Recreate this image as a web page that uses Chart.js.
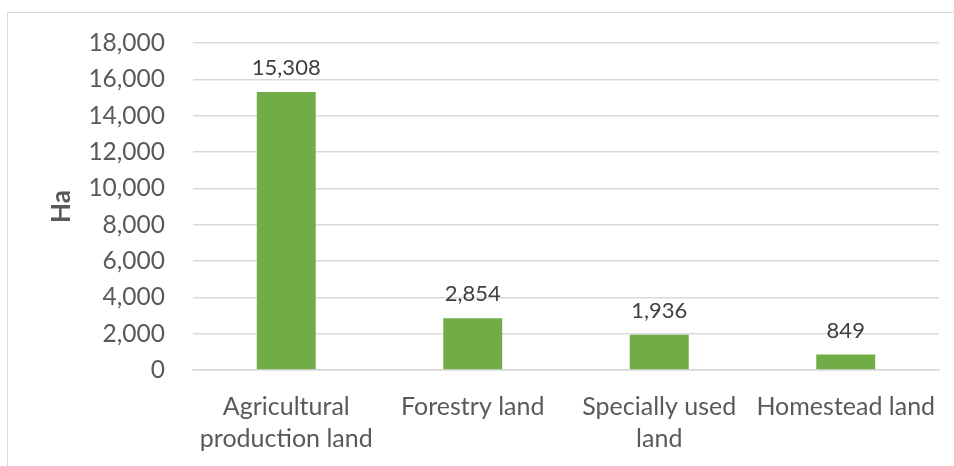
<!DOCTYPE html>
<html>
<head>
<meta charset="utf-8">
<script src="https://cdn.jsdelivr.net/npm/chart.js@4"></script>
<style>
  html, body { margin: 0; padding: 0; background: #fff; }
  #wrap { position: relative; width: 954px; height: 466px; overflow: hidden; }
  #frame { position: absolute; left: 7px; top: 12px; width: 1000px; height: 500px; border: 1px solid #d9d9d9; }
  #chart { position: absolute; left: 0; top: 0; }
</style>
</head>
<body>
<div id="wrap">
  <div id="frame"></div>
  <canvas id="chart" width="954" height="466"></canvas>
</div>
<script>
const categories = [
    ['Agricultural', 'production land'],
    ['Forestry land'],
    ['Specially used', 'land'],
    ['Homestead land']
];
const areaHa = [15308, 2854, 1936, 849];
const yTicks = [0, 2000, 4000, 6000, 8000, 10000, 12000, 14000, 16000, 18000];

const textColor = '#595959';
const fontFamily = 'Lato, "Open Sans", sans-serif';

// Подписи значений над столбцами
const valueLabels = {
    id: 'valueLabels',
    afterDatasetsDraw(chart) {
        const ctx = chart.ctx;
        const meta = chart.getDatasetMeta(0);
        ctx.save();
        ctx.fillStyle = '#404040';
        ctx.font = '22px ' + fontFamily;
        ctx.textAlign = 'center';
        ctx.textBaseline = 'middle';
        meta.data.forEach((bar, i) => {
            ctx.fillText(areaHa[i].toLocaleString('en-US'), bar.x, bar.y - 24);
        });
        ctx.restore();
    }
};

new Chart(document.getElementById('chart'), {
    type: 'bar',
    data: {
        labels: categories,
        datasets: [{
            data: areaHa,
            backgroundColor: '#70ad47',
            categoryPercentage: 1,
            barPercentage: 0.316
        }]
    },
    options: {
        responsive: false,
        animation: false,
        events: [],
        layout: { padding: { top: 43, right: 15, left: 47, bottom: 0 } },
        plugins: {
            legend: { display: false },
            tooltip: { enabled: false }
        },
        scales: {
            x: {
                grid: { display: false, drawTicks: false },
                border: { color: '#d9d9d9', width: 1.5 },
                ticks: {
                    color: textColor,
                    font: { family: fontFamily, size: 25, lineHeight: 1.28 },
                    padding: 21,
                    maxRotation: 0,
                    minRotation: 0,
                    autoSkip: false
                },
                afterFit(scale) {
                    // подписи могут выходить за край, область графика не сжимаем
                    scale.height = 96;
                    scale.paddingLeft = 0;
                    scale.paddingRight = 0;
                }
            },
            y: {
                min: 0,
                max: 18000,
                afterBuildTicks(scale) {
                    scale.ticks = yTicks.map(v => ({ value: v }));
                },
                grid: { color: '#d9d9d9', lineWidth: 1.5, drawTicks: false },
                border: { display: false },
                ticks: {
                    color: textColor,
                    font: { family: fontFamily, size: 24.5 },
                    padding: 28,
                    callback: v => v.toLocaleString('en-US')
                },
                title: {
                    display: true,
                    text: 'Ha',
                    color: textColor,
                    font: { family: fontFamily, size: 26, weight: 'bold', lineHeight: 1.1 },
                    padding: 0
                },
                afterFit(scale) { scale.width = 146; }
            }
        }
    },
    plugins: [valueLabels]
});
</script>
</body>
</html>
